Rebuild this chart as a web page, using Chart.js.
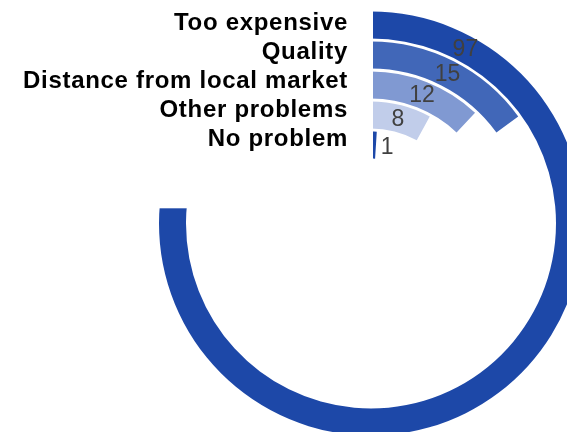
<!DOCTYPE html>
<html>
<head>
<meta charset="utf-8">
<script src="https://cdn.jsdelivr.net/npm/chart.js@4/dist/chart.umd.min.js"></script>
<style>
  html, body { margin: 0; padding: 0; background: #ffffff; overflow: hidden; }
  #wrap { position: relative; width: 567px; height: 432px; }
</style>
</head>
<body>
<div id="wrap"><canvas id="chart"></canvas></div>
<script>
// Reasons given, one ring per reason (outermost first)
const categories = ['Too expensive', 'Quality', 'Distance from local market', 'Other problems', 'No problem'];
const values = [97, 15, 12, 8, 1];
const scaleMax = 100;

const ringColors = ['#1D48A8', '#4167B8', '#8099D2', '#C1CDEA', '#1D48A8'];

// Build rings with thin transparent spacer rings between them
const datasets = [];
values.forEach((v, i) => {
  datasets.push({
    label: categories[i],
    data: [v, scaleMax - v],
    backgroundColor: [ringColors[i], 'rgba(0,0,0,0)'],
    borderWidth: 0,
    hoverBorderWidth: 0,
    hoverOffset: 0,
    weight: 9,
    clip: false
  });
  if (i < values.length - 1) {
    datasets.push({
      label: '',
      data: [scaleMax],
      backgroundColor: ['rgba(0,0,0,0)'],
      borderWidth: 0,
      hoverBorderWidth: 0,
      hoverOffset: 0,
      weight: 1,
      clip: false
    });
  }
});

const ringIndex = values.map((_, i) => i * 2);

// White panel over the upper-left quadrant, category names and value labels
const labelPlugin = {
  id: 'ringLabels',
  afterDatasetsDraw(chart) {
    const ctx = chart.ctx;
    const first = chart.getDatasetMeta(0).data[0];
    const cx = first.x, cy = first.y;

    ctx.save();
    ctx.fillStyle = '#ffffff';
    ctx.fillRect(0, 0, cx + 2, cy - 15.2);

    // category names
    ctx.fillStyle = '#000000';
    ctx.font = 'bold 24px "Liberation Sans", Arial, sans-serif';
    ctx.letterSpacing = '0.7px';
    ctx.textAlign = 'right';
    ctx.textBaseline = 'middle';
    categories.forEach((name, i) => {
      ctx.fillText(name, cx - 23, 23.5 + i * 29);
    });

    // values placed along each ring
    ctx.letterSpacing = '0px';
    ctx.font = '23px "Liberation Sans", Arial, sans-serif';
    ctx.fillStyle = '#404040';
    ctx.textAlign = 'center';
    const minA = 11.8 * Math.PI / 180, maxA = 28.4 * Math.PI / 180;
    ringIndex.forEach((di, i) => {
      const arc = chart.getDatasetMeta(di).data[0];
      const p = arc.getProps(['x', 'y', 'startAngle', 'endAngle', 'innerRadius', 'outerRadius'], true);
      let a = (p.startAngle + p.endAngle) / 2 + Math.PI / 2;
      a = Math.min(Math.max(a, minA), maxA) - Math.PI / 2;
      const r = (p.innerRadius + p.outerRadius) / 2;
      ctx.fillText(String(values[i]), p.x + r * Math.cos(a), p.y + r * Math.sin(a) + 1);
    });
    ctx.restore();
  }
};

new Chart(document.getElementById('chart'), {
  type: 'doughnut',
  data: { labels: ['value', 'rest'], datasets },
  options: {
    responsive: true,
    maintainAspectRatio: false,
    animation: false,
    events: [],
    radius: 212,
    cutout: '30.66%',
    rotation: 0,
    circumference: 360,
    layout: { padding: { left: 175, right: 0, top: 15, bottom: 0 } },
    plugins: {
      legend: { display: false },
      tooltip: { enabled: false }
    }
  },
  plugins: [labelPlugin]
});
</script>
</body>
</html>
